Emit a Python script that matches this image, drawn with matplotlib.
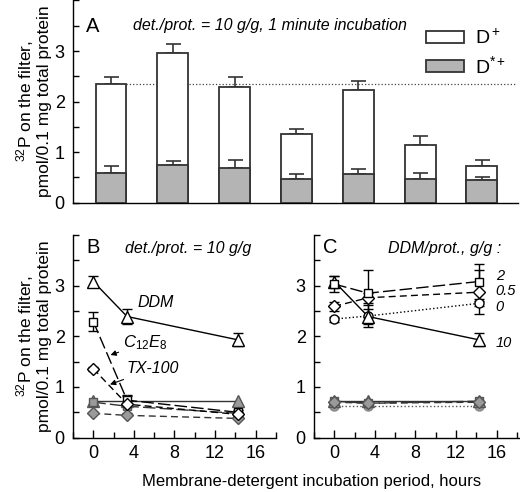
import matplotlib
matplotlib.use("Agg")
import matplotlib.pyplot as plt
from matplotlib.patches import Patch
from matplotlib.ticker import MultipleLocator

plt.rcParams['font.family'] = ['Liberation Sans', 'DejaVu Sans']
plt.rcParams['mathtext.fontset'] = 'custom'
plt.rcParams['mathtext.rm'] = 'Liberation Sans'
plt.rcParams['mathtext.it'] = 'Liberation Sans:italic'
plt.rcParams['axes.linewidth'] = 1.0

# panel A: 1 minute incubation, seven detergent conditions
barPos = [1, 2, 3, 4, 5, 6, 7]
dPlus = [2.35, 2.97, 2.28, 1.36, 2.22, 1.15, 0.73]
dPlusErr = [0.14, 0.16, 0.20, 0.10, 0.19, 0.17, 0.12]
dStar = [0.59, 0.74, 0.69, 0.46, 0.57, 0.47, 0.44]
dStarErr = [0.14, 0.08, 0.15, 0.11, 0.09, 0.12, 0.07]
refLevel = 2.35

# panel B: det./prot. = 10 g/g, vs time
hours = [0, 3.33, 14.25]
bDDM = [3.08, 2.39, 1.93]
bDDMErr = [0.10, 0.14, 0.13]
bC12 = [2.29, 0.74, 0.50]
bC12Err = [0.18, 0.08, 0.04]
bTX = [1.36, 0.66, 0.46]
bTXErr = [0.04, 0.18, 0.04]
bDDMstar = [0.73, 0.73, 0.73]
bC12star = [0.70, 0.62, 0.48]
bTXstar = [0.48, 0.44, 0.38]

# panel C: DDM/prot. ratio, g/g
cR2 = [3.03, 2.85, 3.08]
cR2Err = [0.15, 0.46, 0.34]
cR05 = [2.59, 2.76, 2.87]
cR05Err = [0.09, 0.10, 0.44]
cR0 = [2.34, 2.40, 2.65]
cR0Err = [0.05, 0.22, 0.05]
cR10 = [3.08, 2.39, 1.93]
cR10Err = [0.10, 0.14, 0.13]
cR2star = [0.72, 0.68, 0.72]
cR05star = [0.70, 0.68, 0.70]
cR0star = [0.62, 0.62, 0.62]
cR10star = [0.72, 0.72, 0.72]
ratioLabels = ["2", "0.5", "0", "10"]
ratioLabelY = [3.19, 2.89, 2.58, 1.87]

edge = '#333333'
barGray = '#b4b4b4'
mkGray = '#9a9a9a'
ylab = "$^{32}$P on the filter,\npmol/0.1 mg total protein"
fs = 13
fsNote = 11.5

fig = plt.figure(figsize=(5.2, 4.92), dpi=100)
axA = fig.add_axes([0.1404, 0.588, 0.856, 0.411])
axB = fig.add_axes([0.1404, 0.1104, 0.390, 0.4122])
axC = fig.add_axes([0.6038, 0.1104, 0.3962, 0.4122])

for ax in (axA, axB, axC):
    ax.spines['top'].set_visible(False)
    ax.spines['right'].set_visible(False)
    ax.set_ylim(0, 4)
    ax.yaxis.set_major_locator(MultipleLocator(1))
    ax.yaxis.set_minor_locator(MultipleLocator(0.5))
    ax.tick_params(axis='y', which='both', direction='in', length=4, width=1, labelsize=fs, pad=6)
    ax.set_yticks([0, 1, 2, 3])

# ---- A
axA.hlines(refLevel, 1.25, 7.55, colors='#444444', linestyles=':', lw=0.9, zorder=1)
axA.bar(barPos, dPlus, width=0.5, color='white', edgecolor=edge, lw=1.3, zorder=2)
axA.errorbar(barPos, dPlus, yerr=[[0]*7, dPlusErr], fmt='none', ecolor=edge, elinewidth=1.2,
             capsize=5.4, capthick=1.2, zorder=1.5)
axA.bar(barPos, dStar, width=0.5, color=barGray, edgecolor=edge, lw=1.3, zorder=3)
axA.errorbar(barPos, dStar, yerr=[[0]*7, dStarErr], fmt='none', ecolor=edge, elinewidth=1.2,
             capsize=5.4, capthick=1.2, zorder=2.5)
axA.set_xlim(0.385, 7.586)
axA.set_xticks([])
axA.set_ylabel(ylab, fontsize=12.5, labelpad=2, linespacing=1.05)
axA.text(0.6, 3.49, "A", fontsize=14.5, ha='left', va='center')
axA.text(1.36, 3.51, "det./prot. = 10 g/g, 1 minute incubation", fontsize=fsNote, style='italic',
         ha='left', va='center')
axA.legend(handles=[Patch(facecolor='white', edgecolor=edge, lw=1.3, label='D$^+$'),
                    Patch(facecolor=barGray, edgecolor=edge, lw=1.3, label='D$^{*+}$')],
           loc='upper left', bbox_to_anchor=(0.793, 0.86), frameon=False, fontsize=14,
           handlelength=1.96, handleheight=0.57, handletextpad=0.55, labelspacing=0.35,
           borderpad=0, borderaxespad=0)


def series(ax, y, err, marker, ms, ls, face, ecol='black', lcol='black'):
    ax.plot(hours, y, ls=ls, color=lcol, lw=1.0, zorder=2)
    if err is not None:
        ax.errorbar(hours, y, yerr=err, fmt='none', ecolor='black', elinewidth=1.0,
                    capsize=3.3, capthick=1.0, zorder=2.5)
    ax.plot(hours, y, ls='none', marker=marker, ms=ms, mfc=face, mec=ecol, mew=1.0, zorder=3)


longdash = (0, (9, 3))
shortdash = (0, (5, 3))

# ---- B
series(axB, bDDMstar, None, '^', 8, '-', mkGray, '#555555', '#333333')
series(axB, bC12star, None, 's', 5.8, longdash, mkGray, '#555555', '#333333')
series(axB, bTXstar, None, 'D', 6, shortdash, mkGray, '#555555', '#333333')
series(axB, bC12, bC12Err, 's', 5.8, longdash, 'white')
series(axB, bTX, bTXErr, 'D', 6, shortdash, 'white')
series(axB, bDDM, bDDMErr, '^', 8, '-', 'white')
axB.set_ylabel(ylab, fontsize=12.5, labelpad=2, linespacing=1.05)
axB.text(-0.65, 3.75, "B", fontsize=14.5, ha='left', va='center')
axB.text(3.12, 3.74, "det./prot. = 10 g/g", fontsize=fsNote, style='italic', ha='left', va='center')
axB.text(4.4, 2.66, "DDM", fontsize=fsNote, style='italic', ha='left', va='center')
axB.annotate(r"$\mathit{C_{12}E_{8}}$", xy=(1.7, 1.63), xytext=(2.9, 1.87), fontsize=12,
             ha='left', va='center',
             arrowprops=dict(arrowstyle='-|>', color='black', lw=0.8, mutation_scale=8, shrinkA=1, shrinkB=0))
axB.annotate("TX-100", xy=(1.65, 1.05), xytext=(3.3, 1.36), fontsize=fsNote, style='italic',
             ha='left', va='center',
             arrowprops=dict(arrowstyle='-|>', color='black', lw=0.8, mutation_scale=8, shrinkA=1, shrinkB=0))

# ---- C
series(axC, cR0star, None, 'o', 6.5, ':', mkGray, '#888888', '#555555')
series(axC, cR10star, None, '^', 8, '-', mkGray, '#555555', '#333333')
series(axC, cR2star, None, 's', 5.8, longdash, mkGray, '#555555', '#333333')
series(axC, cR05star, None, 'D', 6, shortdash, mkGray, '#555555', '#333333')
series(axC, cR0, cR0Err, 'o', 6.5, ':', 'white')
series(axC, cR10, cR10Err, '^', 8, '-', 'white')
series(axC, cR05, cR05Err, 'D', 6, shortdash, 'white')
series(axC, cR2, cR2Err, 's', 5.8, longdash, 'white')
axC.text(-1.1, 3.75, "C", fontsize=14.5, ha='left', va='center')
axC.text(5.3, 3.74, "DDM/prot., g/g :", fontsize=fsNote, style='italic', ha='left', va='center')
for lab, yy in zip(ratioLabels, ratioLabelY):
    axC.text(15.9, yy, lab, fontsize=10.5, style='italic', ha='left', va='center')

for ax, right in ((axB, 18), (axC, 18.3)):
    ax.set_xlim(-2, right)
    ax.set_xticks([0, 4, 8, 12, 16])
    ax.xaxis.set_minor_locator(MultipleLocator(2))
    ax.tick_params(axis='x', which='major', direction='in', length=6, width=1, labelsize=fs, pad=5)
    ax.tick_params(axis='x', which='minor', direction='in', length=4.3, width=1)

fig.text(0.6, 0.022, "Membrane-detergent incubation period, hours", fontsize=12, ha='center', va='center')

fig.savefig("out.png", dpi=100)
